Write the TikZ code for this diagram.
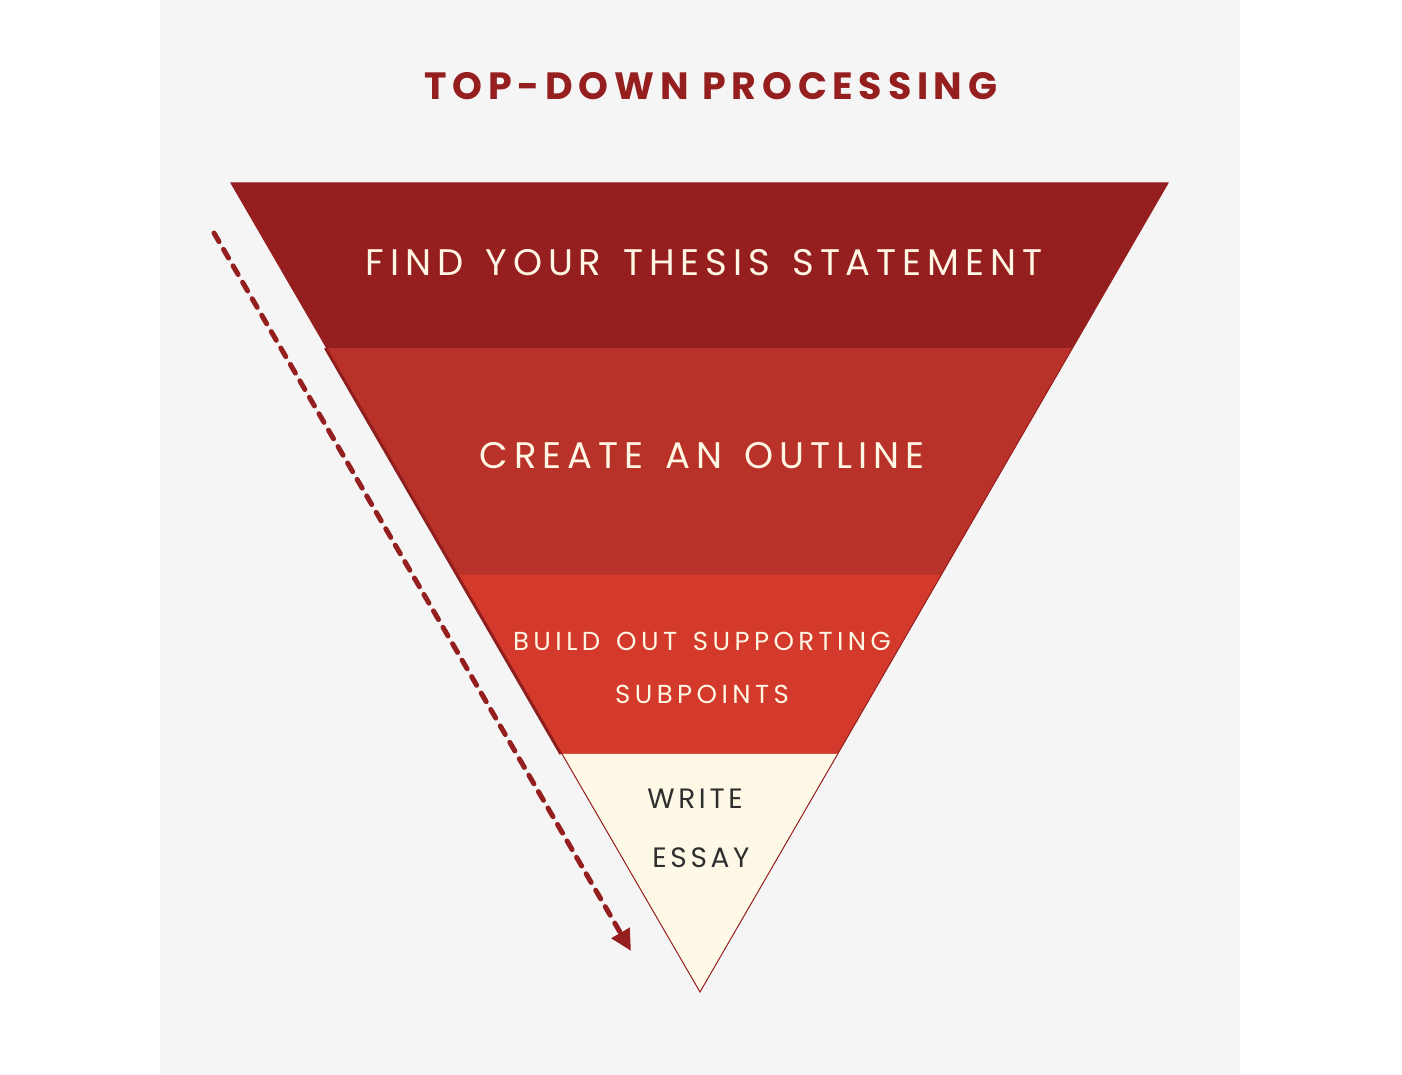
\documentclass[tikz,border=0pt]{standalone}
\usepackage{fontspec}
\usetikzlibrary{arrows.meta,calc}
\newfontfamily\titlefont[LetterSpace=15]{Poppins}
\newfontfamily\bandfont[LetterSpace=16,WordSpace=1.4]{Poppins}
\newfontfamily\smallfont[LetterSpace=17,WordSpace=1.4]{Poppins}
\newfontfamily\inkfont[LetterSpace=13]{Poppins}
\definecolor{panel}{HTML}{F5F5F5}
\definecolor{bandA}{HTML}{951E1F}
\definecolor{bandB}{HTML}{B93229}
\definecolor{bandC}{HTML}{D33A2C}
\definecolor{bandD}{HTML}{FEF8E6}
\definecolor{cream}{HTML}{FFF6E4}
\definecolor{ink}{HTML}{2E2E2E}
\definecolor{edge}{HTML}{8C1E1E}
\tikzset{
  titletext/.style={anchor=base, inner sep=0pt, text=bandA, font=\titlefont\bfseries\fontsize{38}{44}\selectfont},
  bigtext/.style={anchor=base, inner sep=0pt, text=cream, font=\bandfont\fontsize{37}{42}\selectfont},
  midtext/.style={anchor=base, inner sep=0pt, text=cream, align=center, font=\smallfont\fontsize{26}{53}\selectfont},
  inktext/.style={anchor=base, inner sep=0pt, text=ink, font=\inkfont\fontsize{28}{34}\selectfont},
  flowarrow/.style={bandA, line width=5pt, line cap=round, dash pattern=on 10pt off 9pt, -{Triangle[length=21pt,width=20pt]}}
}
\begin{document}
\begin{tikzpicture}[x=1pt,y=-1pt]
\useasboundingbox (0,0) rectangle (1402,1075);
\fill[white] (0,0) rectangle (1402,1075);
\fill[panel] (160,0) rectangle (1240,1075);
% triangle geometry
\coordinate (TL) at (231,183);
\coordinate (TR) at (1168,183);
\coordinate (AP) at (700,992);
\coordinate (L1) at ($(TL)!0.2040!(AP)$);
\coordinate (R1) at ($(TR)!0.2040!(AP)$);
\coordinate (L2) at ($(TL)!0.4845!(AP)$);
\coordinate (R2) at ($(TR)!0.4845!(AP)$);
\coordinate (L3) at ($(TL)!0.7058!(AP)$);
\coordinate (R3) at ($(TR)!0.7058!(AP)$);
% shadow on the left edge
\draw[edge, line width=3pt] ($(L1)+(-1.2,0)$) -- ($(L3)+(-1.2,0)$);
% bands
\fill[bandA] (TL) -- (TR) -- (R1) -- (L1) -- cycle;
\fill[bandB] (L1) -- (R1) -- (R2) -- (L2) -- cycle;
\fill[bandC] (L2) -- (R2) -- (R3) -- (L3) -- cycle;
\fill[bandD] (L3) -- (R3) -- (AP) -- cycle;
\draw[bandA, line width=1pt, line join=miter] (TL) -- (TR) -- (AP) -- cycle;
% texts
\node[titletext] (title) at (711,100) {TOP-DOWN PROCESSING};
\node[bigtext] (thesis) at (704,276) {FIND YOUR THESIS STATEMENT};
\node[bigtext] (outline) at (702,468) {CREATE AN OUTLINE};
\node[midtext] (support) at (702,703) {BUILD OUT SUPPORTING\\SUBPOINTS};
\node[inktext] (write) at (695,808) {WRITE};
\node[inktext] (essay) at (701,867) {ESSAY};
% arrow
\coordinate (AS) at (214,233);
\coordinate (AE) at (631,951);
\draw[flowarrow] (AS) -- (AE);
\end{tikzpicture}
\end{document}
